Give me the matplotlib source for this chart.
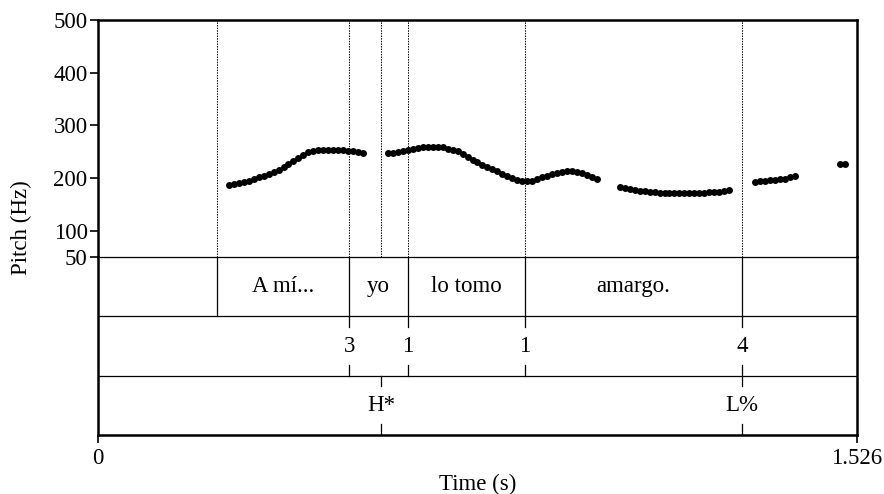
import numpy as np
import matplotlib.pyplot as plt

plt.rcParams['font.family'] = ['Liberation Serif', 'DejaVu Serif']

t_end = 1.526
step = 0.01

# pitch track pieces: start time (s) and f0 values (Hz), 10 ms frames
seg_starts = [0.263, 0.583, 1.049, 1.321, 1.492]
seg_f0 = [
    [187, 189, 190, 192, 195, 198, 201, 204, 208, 212, 216, 220, 226, 232,
     238, 244, 249, 252, 253, 254, 254, 253.5, 253, 252.5, 252, 251, 249.5, 248],
    [247, 248, 249.5, 251, 253, 255, 257, 258.5, 259.5, 259.5, 259, 258, 256,
     254, 251, 246, 240, 235, 230, 225, 221, 217, 213, 208, 204, 200, 197, 195,
     194, 195, 198, 201, 204, 207, 210, 212, 213, 212.5, 211, 209, 206, 202, 198],
    [183.5, 181, 179, 177.5, 176, 175, 174, 173, 172, 171.5, 171, 171, 171,
     171, 171, 171.5, 172, 172, 172.5, 173, 174, 175, 177],
    [192, 194, 195, 196, 196.5, 197.5, 199, 201, 203],
    [226, 226],
]

# tier 1 (words): boundaries and labels
word_bounds = [0.239, 0.505, 0.623, 0.858, 1.295]
words = ['A mí...', 'yo', 'lo tomo', 'amargo.']
# tier 2 (break indices)
bi_times = [0.505, 0.623, 0.858, 1.295]
bi_labels = ['3', '1', '1', '4']
# tier 3 (tones)
tone_times = [0.569, 1.295]
tone_labels = ['H*', 'L%']

W, H = 884, 494
fig = plt.figure(figsize=(W / 100, H / 100), dpi=100)
x0, x1 = 98, 857
ax = fig.add_axes([x0 / W, (H - 257) / H, (x1 - x0) / W, 237 / H])
ax2 = fig.add_axes([x0 / W, (H - 435) / H, (x1 - x0) / W, 178 / H], sharex=ax)

fs = 16.5

# pitch panel
for b in sorted(set(word_bounds + bi_times + tone_times)):
    ax.axvline(b, color='black', lw=0.7, ls=(0, (1.5, 1.2)))
for s, f in zip(seg_starts, seg_f0):
    t = s + step * np.arange(len(f))
    ax.plot(t, f, 'o', color='black', ms=5.0, mec='black', mew=0)
ax.set_xlim(0, t_end)
ax.set_ylim(50, 500)
ax.set_yticks([50, 100, 200, 300, 400, 500])
ax.tick_params(axis='y', direction='out', length=6, width=1.2, labelsize=fs, pad=1.5)
ax.tick_params(axis='x', bottom=False, labelbottom=False)
for side in ['left', 'right', 'top']:
    ax.spines[side].set_linewidth(1.8)
ax.spines['bottom'].set_visible(False)

# tiers
ax2.set_ylim(0, 3)
ax2.set_yticks([])
ax2.axhline(2, color='black', lw=0.9)
ax2.axhline(1, color='black', lw=0.9)
for b in word_bounds:
    ax2.plot([b, b], [2, 3], color='black', lw=0.9)
edges = word_bounds
for i, w in enumerate(words):
    ax2.text((edges[i] + edges[i + 1]) / 2, 2.5, w, ha='center', va='center', fontsize=fs)
mk = 0.18
for t, lab in zip(bi_times, bi_labels):
    ax2.plot([t, t], [2 - mk, 2], color='black', lw=0.9)
    ax2.plot([t, t], [1, 1 + mk], color='black', lw=0.9)
    ax2.text(t, 1.5, lab, ha='center', va='center', fontsize=fs)
for t, lab in zip(tone_times, tone_labels):
    ax2.plot([t, t], [1 - mk, 1], color='black', lw=0.9)
    ax2.plot([t, t], [0, mk], color='black', lw=0.9)
    ax2.text(t, 0.5, lab, ha='center', va='center', fontsize=fs)
ax2.set_xticks([0, t_end])
ax2.set_xticklabels(['0', '1.526'])
ax2.tick_params(axis='x', direction='out', length=6, width=1.2, labelsize=fs, pad=3)
for side in ['left', 'right', 'bottom']:
    ax2.spines[side].set_linewidth(1.8)
ax2.spines['top'].set_linewidth(0.9)

fig.text(478 / W, 1 - 484 / H, 'Time (s)', ha='center', va='center', fontsize=fs)
fig.text(21 / W, 1 - 228 / H, 'Pitch (Hz)', ha='center', va='center', rotation=90, fontsize=fs)

fig.savefig('out.png', dpi=100)
